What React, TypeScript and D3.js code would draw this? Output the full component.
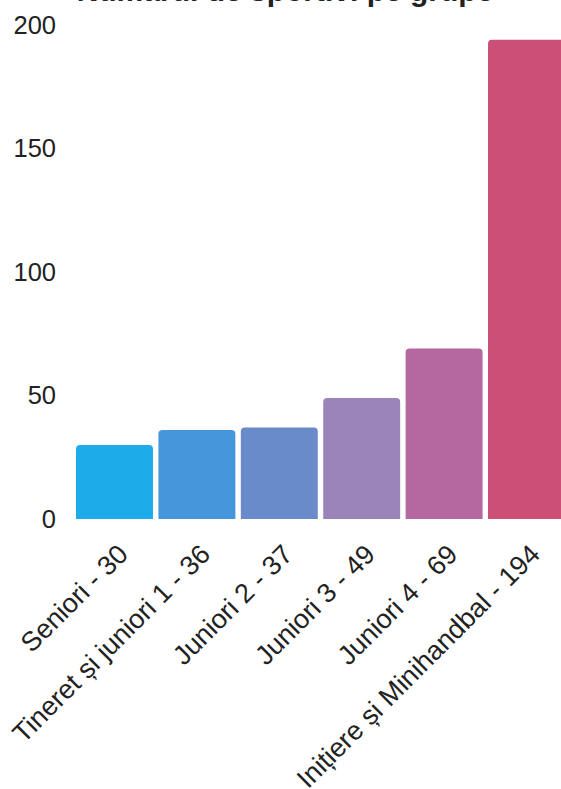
import React from "react";
import * as d3 from "d3";

const categories = [
  "Seniori - 30",
  "Tineret și juniori 1 - 36",
  "Juniori 2 - 37",
  "Juniori 3 - 49",
  "Juniori 4 - 69",
  "Inițiere și Minihandbal - 194",
];
const values = [30, 36, 37, 49, 69, 194];
const colors = ["#1dabea", "#4596db", "#6a8bca", "#9a84b9", "#b5679f", "#cc4f78"];
const yTicks = [0, 50, 100, 150, 200];
const title = "Numărul de sportivi pe grupe";

const W = 561;
const H = 789;

export default function App() {
  const x = d3
    .scaleBand<string>()
    .domain(categories)
    .range([73.3, 567.7])
    .paddingInner(0.066)
    .paddingOuter(0.033);
  const y = d3.scaleLinear().domain([0, 200]).range([519, 25]);
  const r = 4;

  const barPath = (x0: number, w: number, y0: number, y1: number) => {
    const p = d3.path();
    p.moveTo(x0, y1);
    p.lineTo(x0, y0 + r);
    p.quadraticCurveTo(x0, y0, x0 + r, y0);
    p.lineTo(x0 + w - r, y0);
    p.quadraticCurveTo(x0 + w, y0, x0 + w, y0 + r);
    p.lineTo(x0 + w, y1);
    p.closePath();
    return p.toString();
  };

  return (
    <svg
      width={W}
      height={H}
      style={{ position: "absolute", left: 0, top: 0, background: "#fff", display: "block" }}
      fontFamily="'Liberation Sans', Arial, sans-serif"
    >
      <rect x={0} y={0} width={W} height={H} fill="#fff" />
      <text x={285} y={1} textAnchor="middle" fontSize={30} fontWeight="bold" fill="#222">
        {title}
      </text>
      {yTicks.map((t) => (
        <text key={t} x={56} y={y(t)} dy="0.35em" textAnchor="end" fontSize={25.5} fill="#222">
          {t}
        </text>
      ))}
      {categories.map((c, i) => (
        <path
          key={c}
          d={barPath(x(c)!, x.bandwidth(), y(values[i]), y(0))}
          fill={colors[i]}
        />
      ))}
      {categories.map((c) => {
        const ax = x(c)! + x.bandwidth() / 2 + 15;
        const ay = 556;
        return (
          <text
            key={c}
            x={ax}
            y={ay}
            textAnchor="end"
            fontSize={27}
            fill="#222"
            transform={`rotate(-45, ${ax}, ${ay})`}
          >
            {c}
          </text>
        );
      })}
    </svg>
  );
}
